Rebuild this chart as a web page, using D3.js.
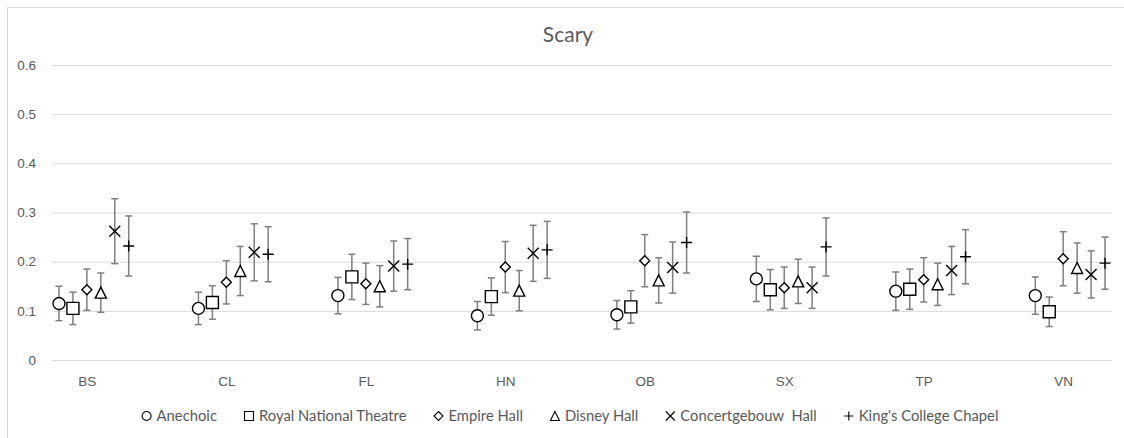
<!DOCTYPE html>
<html>
<head>
<meta charset="utf-8">
<script src="https://cdn.jsdelivr.net/npm/d3@7"></script>
<style>
  html, body { margin: 0; padding: 0; background: #fff; }
  svg { display: block; font-family: Lato, "Open Sans", sans-serif; }
</style>
</head>
<body>
<svg id="chart" width="1124" height="438"></svg>
<script>
// Rating per room, grouped by stimulus
const categories = ["BS", "CL", "FL", "HN", "OB", "SX", "TP", "VN"];
const seriesNames = ["Anechoic", "Royal National Theatre", "Empire Hall", "Disney Hall", "Concertgebouw  Hall", "King's College Chapel"];
const seriesShapes = ["circle", "square", "diamond", "triangle", "cross", "plus"];

const anechoic      = [0.115, 0.105, 0.131, 0.090, 0.092, 0.165, 0.140, 0.131];
const anechoicErr   = [0.035, 0.033, 0.037, 0.029, 0.029, 0.046, 0.039, 0.038];
const royalNational = [0.105, 0.117, 0.169, 0.129, 0.108, 0.143, 0.144, 0.098];
const royalNationalErr = [0.033, 0.034, 0.046, 0.038, 0.033, 0.041, 0.041, 0.030];
const empireHall    = [0.143, 0.158, 0.155, 0.189, 0.202, 0.147, 0.163, 0.206];
const empireHallErr = [0.042, 0.044, 0.042, 0.052, 0.053, 0.042, 0.045, 0.055];
const disneyHall    = [0.137, 0.181, 0.150, 0.141, 0.162, 0.160, 0.154, 0.187];
const disneyHallErr = [0.040, 0.050, 0.042, 0.041, 0.046, 0.045, 0.043, 0.051];
const concertgebouw = [0.262, 0.219, 0.191, 0.217, 0.188, 0.147, 0.182, 0.174];
const concertgebouwErr = [0.066, 0.058, 0.051, 0.057, 0.052, 0.042, 0.049, 0.048];
const kingsCollege  = [0.232, 0.215, 0.195, 0.224, 0.239, 0.230, 0.210, 0.197];
const kingsCollegeErr = [0.061, 0.056, 0.052, 0.058, 0.062, 0.059, 0.055, 0.053];

const yTicks = [0, 0.1, 0.2, 0.3, 0.4, 0.5, 0.6];
const yTickLabels = ["0", "0.1", "0.2", "0.3", "0.4", "0.5", "0.6"];
const title = "Scary";

const seriesValues = [anechoic, royalNational, empireHall, disneyHall, concertgebouw, kingsCollege];
const seriesErrors = [anechoicErr, royalNationalErr, empireHallErr, disneyHallErr, concertgebouwErr, kingsCollegeErr];

const svg = d3.select("#chart");
const W = 1124, H = 438;
const plot = { left: 52, right: 1112, top: 65, bottom: 360 };
const textColor = "#595959";
const gridColor = "#d9d9d9";

// chart frame
svg.append("rect")
  .attr("x", 7.5).attr("y", 7.5)
  .attr("width", W + 10).attr("height", H + 10)
  .attr("fill", "none").attr("stroke", gridColor).attr("stroke-width", 1);

// x: category index, series spread around the category centre
const x = d3.scaleLinear().domain([-0.25, 7.35]).range([plot.left, plot.right]);
const y = d3.scaleLinear().domain([0, 0.6]).range([plot.bottom, plot.top]);
const seriesOffset = 0.1;

// horizontal gridlines
const yAxis = d3.axisLeft(y).tickValues(yTicks)
  .tickFormat((d, i) => yTickLabels[i])
  .tickSize(-(plot.right - plot.left)).tickPadding(16);
const gy = svg.append("g").attr("transform", `translate(${plot.left},0)`).call(yAxis);
gy.select(".domain").remove();
gy.selectAll(".tick line").attr("stroke", gridColor).attr("stroke-width", 1);
gy.selectAll(".tick text").attr("fill", textColor).style("font-size", "13.5px");

// category labels
const xAxis = d3.axisBottom(x).tickValues(d3.range(categories.length))
  .tickFormat(i => categories[i]).tickSize(0).tickPadding(16);
const gx = svg.append("g").attr("transform", `translate(0,${plot.bottom})`).call(xAxis);
gx.select(".domain").remove();
gx.selectAll(".tick text").attr("fill", textColor).style("font-size", "13.5px");

// title
svg.append("text")
  .attr("x", 568).attr("y", 42)
  .attr("text-anchor", "middle")
  .attr("fill", textColor)
  .style("font-size", "21px")
  .text(title);

// marker outlines, centred on (0,0), s = full size
function markerPath(shape, s) {
  const h = s / 2;
  const p = d3.path();
  switch (shape) {
    case "circle":
      p.moveTo(h, 0); p.arc(0, 0, h, 0, 2 * Math.PI); break;
    case "square":
      p.rect(-h, -h, s, s); break;
    case "diamond":
      p.moveTo(0, -h); p.lineTo(h, 0); p.lineTo(0, h); p.lineTo(-h, 0); p.closePath(); break;
    case "triangle":
      p.moveTo(0, -h); p.lineTo(h, h); p.lineTo(-h, h); p.closePath(); break;
    case "cross":
      p.moveTo(-h, -h); p.lineTo(h, h); p.moveTo(h, -h); p.lineTo(-h, h); break;
    case "plus":
      p.moveTo(-h, 0); p.lineTo(h, 0); p.moveTo(0, -h); p.lineTo(0, h); break;
  }
  return p.toString();
}
const markerSize = { circle: 12, square: 12, diamond: 10, triangle: 11, cross: 11, plus: 11 };

const capHalf = 3.5;
seriesNames.forEach((name, s) => {
  const g = svg.append("g").attr("class", "series");
  const pts = categories.map((c, i) => ({
    cx: x(i + (s - 2) * seriesOffset),
    v: seriesValues[s][i],
    e: seriesErrors[s][i]
  }));
  // error bars
  const eb = g.selectAll(".err").data(pts).enter().append("g").attr("class", "err")
    .attr("stroke", "#7f7f7f").attr("stroke-width", 1.5).attr("fill", "none");
  eb.append("line")
    .attr("x1", d => d.cx).attr("x2", d => d.cx)
    .attr("y1", d => y(d.v + d.e)).attr("y2", d => y(d.v - d.e));
  eb.append("line")
    .attr("x1", d => d.cx - capHalf).attr("x2", d => d.cx + capHalf)
    .attr("y1", d => y(d.v + d.e)).attr("y2", d => y(d.v + d.e));
  eb.append("line")
    .attr("x1", d => d.cx - capHalf).attr("x2", d => d.cx + capHalf)
    .attr("y1", d => y(d.v - d.e)).attr("y2", d => y(d.v - d.e));
  // markers
  const shape = seriesShapes[s];
  g.selectAll(".mk").data(pts).enter().append("path").attr("class", "mk")
    .attr("transform", d => `translate(${d.cx},${y(d.v)})`)
    .attr("d", markerPath(shape, markerSize[shape]))
    .attr("fill", shape === "cross" || shape === "plus" ? "none" : "#fff")
    .attr("stroke", "#000").attr("stroke-width", 1.4);
});

// legend, laid out left to right and centred
const legend = svg.append("g").attr("class", "legend");
const items = legend.selectAll(".item").data(seriesNames).enter().append("g").attr("class", "item");
items.append("path")
  .attr("d", (d, i) => markerPath(seriesShapes[i], 9))
  .attr("fill", "none").attr("stroke", "#000").attr("stroke-width", 1.1);
const textOffset = 10;
items.append("text")
  .attr("x", textOffset).attr("dy", "0.35em")
  .attr("fill", textColor).style("font-size", "14.8px")
  .style("white-space", "pre")
  .text(d => d);
const gap = 32;
const widths = [];
items.each(function () {
  widths.push(textOffset + this.querySelector("text").getComputedTextLength());
});
const total = d3.sum(widths) + gap * (widths.length - 1) + 5;
let start = 570 - total / 2 + 5;
items.attr("transform", (d, i) => {
  const tx = start;
  start += widths[i] + gap;
  return `translate(${tx},416)`;
});
</script>
</body>
</html>
